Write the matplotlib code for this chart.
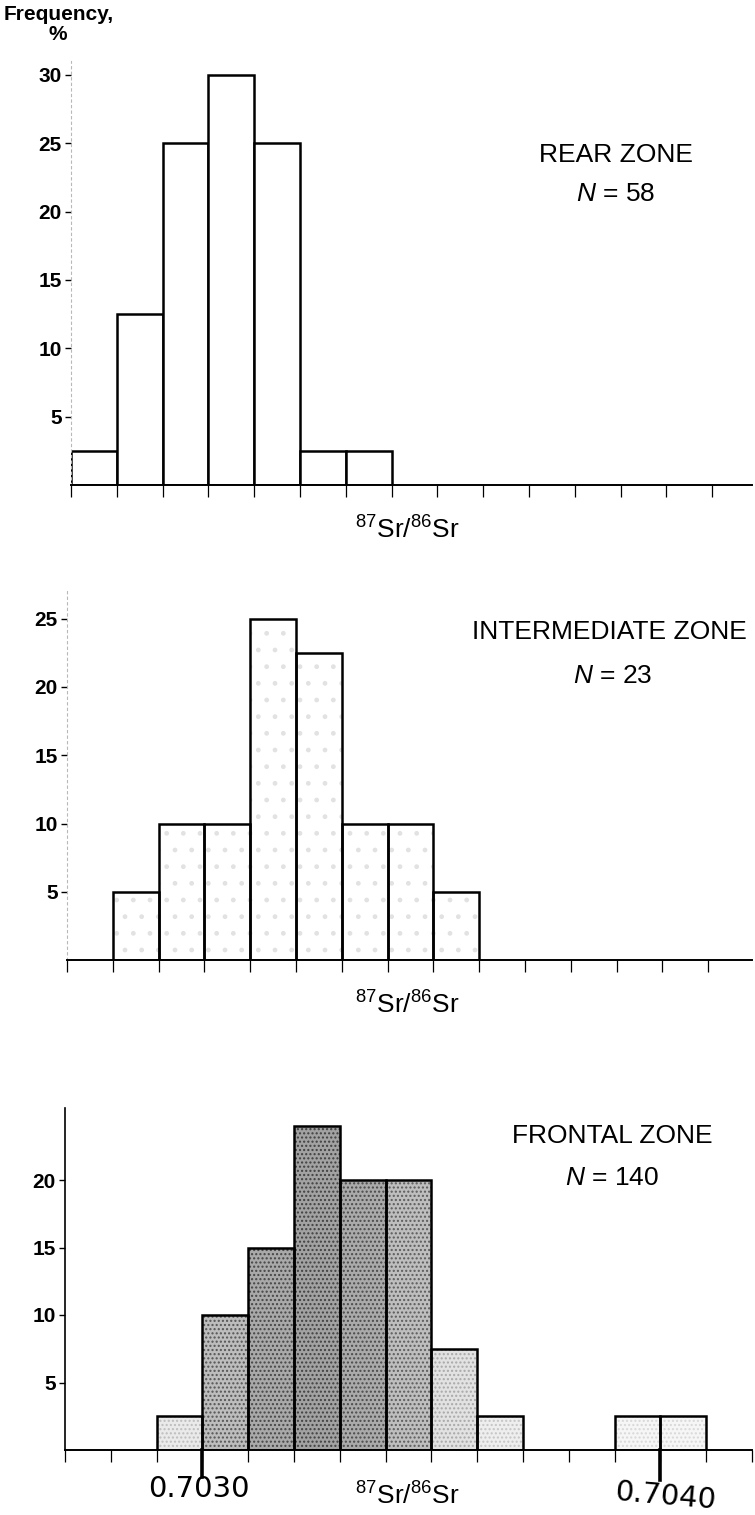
import numpy as np
import matplotlib
matplotlib.use("Agg")
import matplotlib.pyplot as plt
from matplotlib.ticker import MultipleLocator, FixedLocator

plt.rcParams['font.family'] = ['Liberation Sans', 'DejaVu Sans']
plt.rcParams['mathtext.fontset'] = 'custom'
plt.rcParams['mathtext.rm'] = 'Liberation Sans'
plt.rcParams['mathtext.it'] = 'Liberation Sans:italic'
plt.rcParams['hatch.linewidth'] = 1.0

# 87Sr/86Sr bin starts (bin width 0.0001) and frequency in %
rear_bins = [0.7027, 0.7028, 0.7029, 0.7030, 0.7031, 0.7032, 0.7033]
rear_freq = [2.5, 12.5, 25, 30, 25, 2.5, 2.5]

inter_bins = [0.7028, 0.7029, 0.7030, 0.7031, 0.7032, 0.7033, 0.7034, 0.7035]
inter_freq = [5, 10, 10, 25, 22.5, 10, 10, 5]

front_bins = [0.7029, 0.7030, 0.7031, 0.7032, 0.7033, 0.7034, 0.7035, 0.7036,
              0.7039, 0.7040]
front_freq = [2.5, 10, 15, 24, 20, 20, 7.5, 2.5, 2.5, 2.5]

rear_yticks = [5, 10, 15, 20, 25, 30]
inter_yticks = [5, 10, 15, 20, 25]
front_yticks = [5, 10, 15, 20]

# printed stipple tone of the frontal zone bars
front_shade = ['#eaeaea', '#bdbdbd', '#a9a9a9', '#a2a2a2', '#aaaaaa', '#bebebe',
               '#e2e2e2', '#eeeeee', '#f6f6f6', '#f6f6f6']
front_dots = ['#bdbdbd', '#555555', '#454545', '#404040', '#4a4a4a', '#5c5c5c',
              '#a8a8a8', '#c4c4c4', '#d8d8d8', '#d8d8d8']

BIN = 0.0001
X0 = 0.7027
W, H = 755, 1515
BIN_PX = 45.8

fig = plt.figure(figsize=(W / 100, H / 100), dpi=100)
fig.patch.set_facecolor('white')


def make_axes(left, zero_y, px_per_unit, ymax, right=752):
    top_y = zero_y - ymax * px_per_unit
    ax = fig.add_axes([left / W, 1 - zero_y / H, (right - left) / W, (zero_y - top_y) / H])
    ax.set_xlim(X0, X0 + (right - left) / BIN_PX * BIN)
    ax.set_ylim(0, ymax)
    ax.patch.set_alpha(0)
    for s in ['top', 'right']:
        ax.spines[s].set_visible(False)
    ax.spines['bottom'].set_linewidth(1.4)
    ax.xaxis.set_major_locator(MultipleLocator(BIN))
    ax.tick_params(axis='x', direction='out', length=8.5, width=0.9, labelbottom=False)
    ax.tick_params(axis='y', direction='out', length=4.5, width=1.0, pad=2)
    return ax


def faint_left(ax):
    ax.spines['left'].set_color('#b8b8b8')
    ax.spines['left'].set_linestyle((0, (2, 3)))
    ax.spines['left'].set_linewidth(0.8)


# ---- rear zone
ax1 = make_axes(71, 485, 13.67, 31)
ax1.bar(rear_bins, rear_freq, width=BIN, align='edge', facecolor='white',
        edgecolor='black', linewidth=1.8)
ax1.yaxis.set_major_locator(FixedLocator(rear_yticks))
faint_left(ax1)

# ---- intermediate zone
ax2 = make_axes(67, 960, 13.65, 27)
ax2.bar(inter_bins, inter_freq, width=BIN, align='edge', facecolor='white',
        edgecolor='#e2e2e2', linewidth=0, hatch='.')
ax2.bar(inter_bins, inter_freq, width=BIN, align='edge', facecolor='none',
        edgecolor='black', linewidth=1.8)
ax2.yaxis.set_major_locator(FixedLocator(inter_yticks))
faint_left(ax2)

# ---- frontal zone
ax3 = make_axes(65, 1450, 13.5, 25.3)
ax3.bar(front_bins, front_freq, width=BIN, align='edge', color=front_shade,
        edgecolor=front_dots, linewidth=0, hatch='....')
ax3.bar(front_bins, front_freq, width=BIN, align='edge', facecolor='none',
        edgecolor='black', linewidth=1.8)
ax3.yaxis.set_major_locator(FixedLocator(front_yticks))
ax3.spines['left'].set_linewidth(1.2)

for ax, ticks in [(ax1, rear_yticks), (ax2, inter_yticks), (ax3, front_yticks)]:
    ax.set_yticklabels([str(t) for t in ticks], fontweight='bold', fontsize=15)


# texts in pixel coordinates (y from top)
def ptext(x, y, s, **kw):
    fig.text(x / W, 1 - y / H, s, **kw)


ptext(4, 15, 'Frequency,', fontsize=15, fontweight='bold', ha='left', va='center')
ptext(58, 35, '%', fontsize=15, fontweight='bold', ha='center', va='center')

ptext(616, 155, 'REAR ZONE', fontsize=19, ha='center', va='center')
ptext(616, 194, r'$N$ = 58', fontsize=19, ha='center', va='center')
ptext(472, 632, 'INTERMEDIATE ZONE', fontsize=19, ha='left', va='center')
ptext(613, 676, r'$N$ = 23', fontsize=19, ha='center', va='center')
ptext(612, 1136, 'FRONTAL ZONE', fontsize=19, ha='center', va='center')
ptext(612, 1178, r'$N$ = 140', fontsize=19, ha='center', va='center')

for y in [530, 1005, 1496]:
    ptext(407, y, r'$^{87}$Sr/$^{86}$Sr', fontsize=19, ha='center', va='center')

# handwritten reference values
ax3.plot([0.7030, 0.7030], [0, -2.0], color='black', lw=2.6, clip_on=False)
ax3.plot([0.7040, 0.7040], [0, -2.2], color='black', lw=2.6, clip_on=False)
ptext(199, 1489, '0.7030', fontsize=21, ha='center', va='center', family='DejaVu Sans')
ptext(665, 1496, '0.7040', fontsize=21, ha='center', va='center', family='DejaVu Sans',
      rotation=-5)

fig.savefig('out.png', dpi=100, facecolor='white')
